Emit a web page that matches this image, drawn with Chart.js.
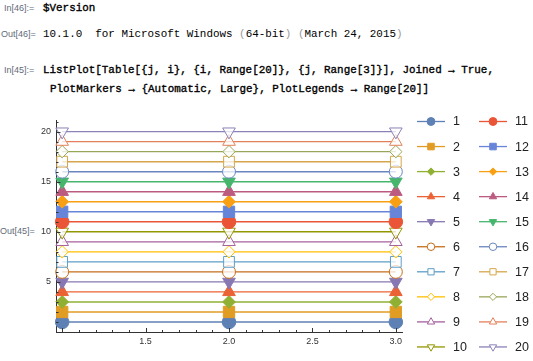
<!DOCTYPE html>
<html>
<head>
<meta charset="utf-8">
<script src="https://cdn.jsdelivr.net/npm/chart.js@4/dist/chart.umd.min.js"></script>
<style>
  html, body { margin: 0; padding: 0; background: #fff; }
  body { width: 533px; height: 361px; position: relative; overflow: hidden; }
  #plot { position: absolute; left: 0; top: 0; }
  .lbl { position: absolute; font: 9px "Liberation Sans", Arial, sans-serif; color: #5f6b7a; line-height: 12px; white-space: pre; }
  .code { position: absolute; font: 10.9px "Liberation Mono", "Courier New", monospace; color: #000; line-height: 14px; white-space: pre; }
  .in { -webkit-text-stroke: 0.35px #000; }
  .paren { color: #9a9a9a; }
</style>
</head>
<body>
<div class="lbl" style="left:4px;top:2px">In[46]:=</div>
<div class="code in" style="left:43px;top:1px">$Version</div>
<div class="lbl" style="left:1px;top:28px">Out[46]=</div>
<div class="code" style="left:43px;top:27px">10.1.0  for Microsoft Windows <span class="paren">(</span>64-bit<span class="paren">)</span> <span class="paren">(</span>March 24, 2015<span class="paren">)</span></div>
<div class="lbl" style="left:4px;top:64px">In[45]:=</div>
<div class="code in" style="left:43px;top:63px">ListPlot[Table[{j, i}, {i, Range[20]}, {j, Range[3]}], Joined → True,</div>
<div class="code in" style="left:50px;top:82px">PlotMarkers → {Automatic, Large}, PlotLegends → Range[20]]</div>
<div class="lbl" style="left:0px;top:225px">Out[45]=</div>
<canvas id="plot" width="533" height="361"></canvas>
<script>
// x positions shared by every series
const xValues = [1, 2, 3];

// one small array per series: the y value at j = 1, 2, 3
const s1 = [1, 1, 1];
const s2 = [2, 2, 2];
const s3 = [3, 3, 3];
const s4 = [4, 4, 4];
const s5 = [5, 5, 5];
const s6 = [6, 6, 6];
const s7 = [7, 7, 7];
const s8 = [8, 8, 8];
const s9 = [9, 9, 9];
const s10 = [10, 10, 10];
const s11 = [11, 11, 11];
const s12 = [12, 12, 12];
const s13 = [13, 13, 13];
const s14 = [14, 14, 14];
const s15 = [15, 15, 15];
const s16 = [16, 16, 16];
const s17 = [17, 17, 17];
const s18 = [18, 18, 18];
const s19 = [19, 19, 19];
const s20 = [20, 20, 20];
const seriesValues = [s1, s2, s3, s4, s5, s6, s7, s8, s9, s10,
                      s11, s12, s13, s14, s15, s16, s17, s18, s19, s20];

const seriesNames = ['1', '2', '3', '4', '5', '6', '7', '8', '9', '10',
                     '11', '12', '13', '14', '15', '16', '17', '18', '19', '20'];

const xTickValues = [1.5, 2.0, 2.5, 3.0];
const yTickValues = [5, 10, 15, 20];

// Mathematica 10 default palette
const colors = [
  '#5e81b5', '#e19c24', '#8fb032', '#eb6235', '#8778b3',
  '#c56e1a', '#5d9ec7', '#ffbf00', '#a5609d', '#929600',
  '#e95536', '#6685d9', '#f89f13', '#bc5b80', '#47b66d',
  '#6a86c0', '#d6a54b', '#98a658', '#e2805a', '#8a82b8'
];

// Automatic marker cycle: 5 filled, then 5 empty
const markerCycle = [
  { style: 'circle', rot: 0, r: 6.8, filled: true },
  { style: 'rect', rot: 0, r: 8, filled: true },
  { style: 'rectRot', rot: 0, r: 6.4, filled: true },
  { style: 'triangle', rot: 0, r: 7.3, filled: true },
  { style: 'triangle', rot: 180, r: 7.3, filled: true },
  { style: 'circle', rot: 0, r: 6.5, filled: false },
  { style: 'rect', rot: 0, r: 7.6, filled: false },
  { style: 'rectRot', rot: 0, r: 6.2, filled: false },
  { style: 'triangle', rot: 0, r: 7.3, filled: false },
  { style: 'triangle', rot: 180, r: 7.3, filled: false }
];

const EMPTY_FILL = 'rgba(255,255,255,0.75)';
const TICK_FONT = { family: '"Liberation Sans", Arial, sans-serif', size: 9 };

const datasets = seriesValues.map((vals, i) => {
  const m = markerCycle[i % 10];
  return {
    label: seriesNames[i],
    data: vals.map((v, k) => ({ x: xValues[k], y: v })),
    borderColor: colors[i],
    borderWidth: 1.4,
    pointStyle: m.style,
    pointRotation: m.rot,
    pointRadius: m.r,
    pointHoverRadius: m.r,
    pointBackgroundColor: m.filled ? colors[i] : EMPTY_FILL,
    pointBorderColor: colors[i],
    pointBorderWidth: 1,
    order: 20 - i,
    clip: false,
    tension: 0,
  };
});

// Mathematica-style inward ticks, major and minor
const inwardTicks = {
  id: 'inwardTicks',
  afterDatasetsDraw(chart) {
    const { ctx, scales: { x, y }, chartArea } = chart;
    ctx.save();
    ctx.strokeStyle = '#333';
    ctx.lineWidth = 1;
    ctx.beginPath();
    for (let k = 10; k <= 30; k++) {
      const v = k / 10;
      const px = Math.round(x.getPixelForValue(v)) + 0.5;
      const len = k % 5 === 0 ? 4.5 : 2.5;
      ctx.moveTo(px, chartArea.bottom);
      ctx.lineTo(px, chartArea.bottom - len);
    }
    for (let v = 0; v <= 21; v++) {
      const py = Math.round(y.getPixelForValue(v)) + 0.5;
      const len = v % 5 === 0 ? 4.5 : 2.5;
      ctx.moveTo(chartArea.left, py);
      ctx.lineTo(chartArea.left + len, py);
    }
    ctx.stroke();
    ctx.restore();
  }
};

// two-column legend: line sample with marker, then label
const sideLegend = {
  id: 'sideLegend',
  afterDraw(chart) {
    const ctx = chart.ctx;
    const drawPoint = Chart.helpers && Chart.helpers.drawPoint;
    ctx.save();
    chart.data.datasets.forEach((ds, i) => {
      const col = Math.floor(i / 10);
      const row = i % 10;
      const x0 = col === 0 ? 417 : 479;
      const yc = 121.5 + row * 25.05;
      ctx.strokeStyle = ds.borderColor;
      ctx.lineWidth = 1.3;
      ctx.beginPath();
      ctx.moveTo(x0, yc);
      ctx.lineTo(x0 + 28, yc);
      ctx.stroke();
      if (drawPoint) {
        ctx.fillStyle = ds.pointBackgroundColor === EMPTY_FILL ? '#fff' : ds.borderColor;
        ctx.strokeStyle = ds.borderColor;
        ctx.lineWidth = 1;
        drawPoint(ctx, {
          pointStyle: ds.pointStyle,
          rotation: ds.pointRotation,
          radius: ds.pointRadius * 0.58,
          borderWidth: 1
        }, x0 + 14, yc);
      }
      ctx.fillStyle = '#222';
      ctx.font = '12.5px "Liberation Sans", Arial, sans-serif';
      ctx.textBaseline = 'middle';
      ctx.textAlign = 'left';
      ctx.fillText(ds.label, x0 + 36, yc + 0.5);
    });
    ctx.restore();
  }
};

new Chart(document.getElementById('plot').getContext('2d'), {
  type: 'line',
  data: { datasets },
  options: {
    responsive: false,
    animation: false,
    events: [],
    layout: { padding: { left: 0, top: 120.6, right: 131, bottom: 0 } },
    plugins: {
      legend: { display: false },
      tooltip: { enabled: false },
    },
    scales: {
      x: {
        type: 'linear',
        min: 0.963,
        max: 3.037,
        afterBuildTicks: (scale) => { scale.ticks = xTickValues.map(v => ({ value: v })); },
        afterFit: (scale) => { scale.height = 28.5; },
        grid: { display: false, drawTicks: false },
        border: { display: true, color: '#333', width: 1 },
        ticks: {
          color: '#333',
          font: TICK_FONT,
          padding: 4,
          maxRotation: 0,
          autoSkip: false,
          callback: (v) => Number(v).toFixed(1),
        },
      },
      y: {
        type: 'linear',
        min: -0.05,
        max: 21.1,
        afterBuildTicks: (scale) => { scale.ticks = yTickValues.map(v => ({ value: v })); },
        afterFit: (scale) => { scale.width = 56; },
        grid: { display: false, drawTicks: false },
        border: { display: true, color: '#333', width: 1 },
        ticks: {
          color: '#333',
          font: TICK_FONT,
          padding: 5,
          autoSkip: false,
          callback: (v) => String(v),
        },
      },
    },
  },
  plugins: [inwardTicks, sideLegend],
});
</script>
</body>
</html>
